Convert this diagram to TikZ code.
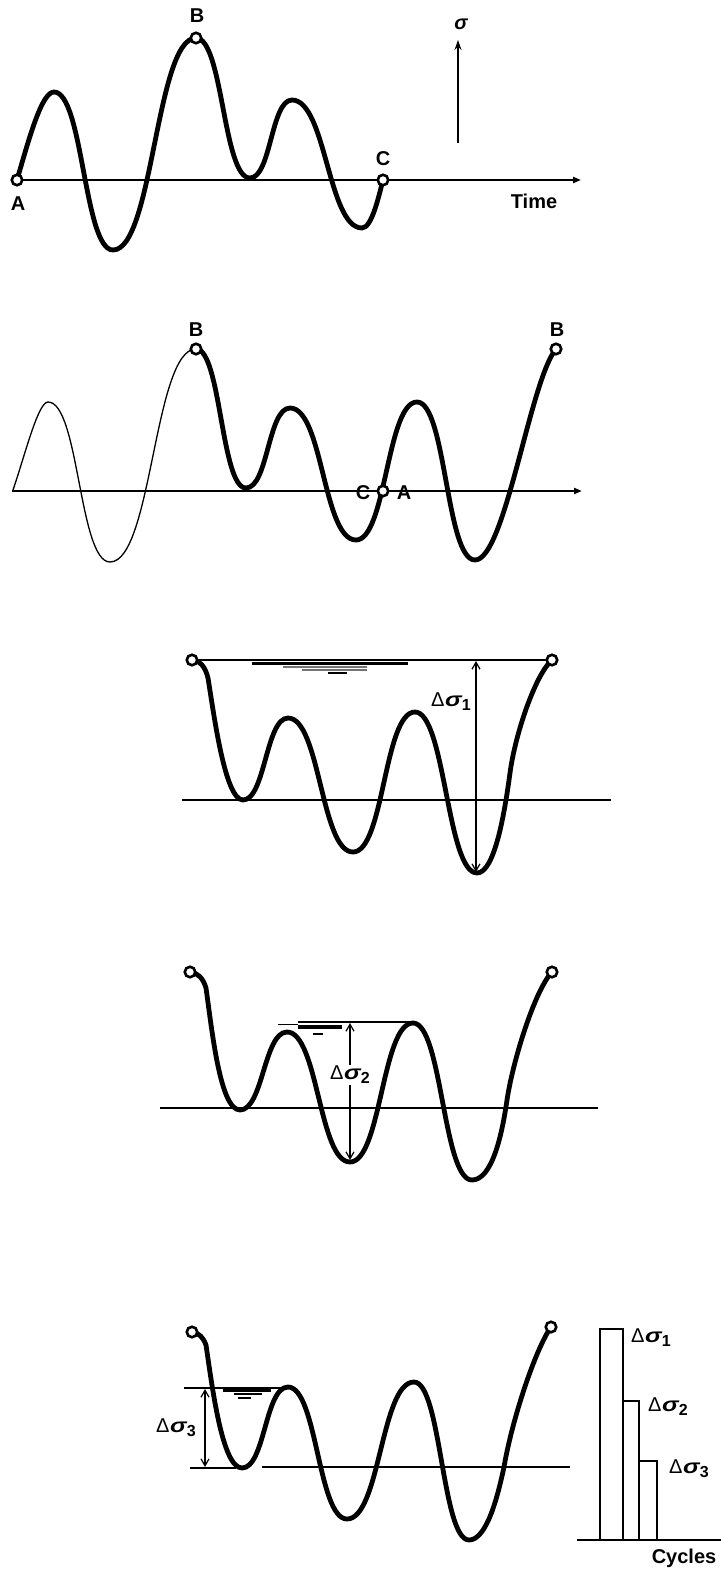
\documentclass[tikz,border=0pt]{standalone}
\usepackage{fontspec}
\setmainfont{Liberation Sans}
\usetikzlibrary{arrows.meta}
\newcommand{\dsig}[1]{Δ\kern0.5pt\scalebox{1.25}[1]{\textbf{\textit{σ}}}\kern-0.5pt\raisebox{-4pt}{\fontsize{16}{16}\selectfont\bfseries #1}}
\begin{document}
\begin{tikzpicture}[x=1pt,y=-1pt,
 curve/.style={line width=4.8pt, line cap=round, line join=round},
 thincurve/.style={line width=1.3pt, line cap=round},
 axisline/.style={line width=2.5pt},
 axisarrow/.style={axisline,-{Triangle[length=8pt,width=6pt]}},
 dimarrow/.style={line width=1.2pt, {Straight Barb[length=7pt,width=8pt]}-{Straight Barb[length=7pt,width=8pt]}},
 hole/.style={circle, draw, fill=white, line width=2.6pt, minimum size=10.5pt, inner sep=0pt},
 lbl/.style={font=\fontsize{20}{24}\selectfont\bfseries, inner sep=0pt},
 dlbl/.style={font=\fontsize{20}{24}\selectfont, inner sep=0pt},
 bar/.style={line width=2.4pt},
 level/.style={line width=2.2pt},
]
\useasboundingbox (0,0) rectangle (721,1569);

% ---------------- Panel 1 ----------------
\coordinate (ax1s) at (15,180); \coordinate (ax1e) at (581,180);
\draw[axisarrow] (ax1s) -- (ax1e);
\draw[curve] (17,180) .. controls (30,135) and (42,92) .. (54,92)
 .. controls +(29,0) and +(-29,0) .. (113,250)
 .. controls +(40,0) and +(-40,0) .. (196,38)
 .. controls +(27,0) and +(-27,0) .. (250,178)
 .. controls +(21,0) and +(-21,0) .. (292,100)
 .. controls +(34,0) and +(-34,0) .. (362,228)
 .. controls (372,228) and (379,195) .. (383,180);
\node[hole] (A1) at (17,180) {};
\node[hole] (B1) at (196,38) {};
\node[hole] (C1) at (383,180) {};
\node[lbl] (lA1) at (18,204) {A};
\node[lbl] (lB1) at (197,16) {B};
\node[lbl] (lC1) at (383,159) {C};
\node[lbl] (lT) at (534,201) {Time};
\coordinate (s0) at (458,143); \coordinate (s1) at (458,40);
\draw[line width=1.5pt,-{Stealth[length=10pt,width=7pt]}] (s0) -- (s1);
\node[lbl, font=\fontsize{20}{24}\selectfont\bfseries\itshape] (lsig) at (461,24) {σ};

% ---------------- Panel 2 ----------------
\coordinate (ax2s) at (12,491); \coordinate (ax2e) at (582,491);
\draw[axisarrow] (ax2s) -- (ax2e);
\draw[thincurve] (13,490) .. controls (25,455) and (38,402) .. (48,402)
 .. controls +(31,0) and +(-31,0) .. (110,562)
 .. controls +(42,0) and +(-42,0) .. (196,349);
\draw[curve] (196,349) .. controls +(25,0) and +(-25,0) .. (246,488)
 .. controls +(22,0) and +(-22,0) .. (290,408)
 .. controls +(33,0) and +(-33,0) .. (356,540)
 .. controls +(30,0) and +(-30,0) .. (417,402)
 .. controls +(29,0) and +(-29,0) .. (475,560)
 .. controls (505,560) and (530,380) .. (556,349);
\node[hole] (B2) at (196,349) {};
\node[hole] (CA2) at (383,491) {};
\node[hole] (B2r) at (556,349) {};
\node[lbl] (lB2) at (196,330) {B};
\node[lbl] (lB2r) at (557,330) {B};
\node[lbl] (lC2) at (363,493) {C};
\node[lbl] (lA2) at (404,493) {A};

% ---------------- Panel 3 ----------------
\coordinate (ax3s) at (182,800); \coordinate (ax3e) at (611,800);
\draw[axisline] (ax3s) -- (ax3e);
\coordinate (t3l) at (192,660); \coordinate (t3r) at (552,660);
\draw[level] (t3l) -- (t3r);
\draw[line width=3pt] (252,663) -- (408,663);
\draw[line width=1.5pt, black!55] (283,667) -- (367,667);
\draw[line width=1.5pt, black!55] (302,670) -- (367,670);
\draw[line width=2.5pt] (328,673) -- (347,673);
\draw[curve] (192,660) .. controls (200,661) and (205,666) .. (208,678)
 .. controls (214,715) and (225,800) .. (243,800)
 .. controls +(22,0) and +(-22,0) .. (288,718)
 .. controls +(32,0) and +(-32,0) .. (353,852)
 .. controls +(31,0) and +(-31,0) .. (415,712)
 .. controls +(30,0) and +(-30,0) .. (477,873)
 .. controls (495,873) and (505,810) .. (510,773)
 .. controls (515,735) and (535,675) .. (552,660);
\node[hole] (L3) at (t3l) {};
\node[hole] (R3) at (t3r) {};
\coordinate (d1a) at (476,661); \coordinate (d1b) at (476,872);
\draw[dimarrow] (d1a) -- (d1b);
\node[dlbl] (ld1) at (451,702) {\dsig{1}};

% ---------------- Panel 4 ----------------
\coordinate (ax4s) at (160,1108); \coordinate (ax4e) at (598,1108);
\draw[axisline] (ax4s) -- (ax4e);
\coordinate (t4l) at (298,1022); \coordinate (t4r) at (413,1022);
\draw[level] (t4l) -- (t4r);
\draw[line width=0.8pt] (278,1024) -- (298,1024);
\draw[line width=4pt] (298,1027) -- (342,1027);
\draw[line width=1.5pt] (313,1034) -- (323,1034);
\draw[curve] (190,972) .. controls (198,973) and (203,978) .. (206,988)
 .. controls (212,1030) and (220,1110) .. (240,1110)
 .. controls +(23,0) and +(-23,0) .. (287,1032)
 .. controls +(31,0) and +(-31,0) .. (350,1162)
 .. controls +(31,0) and +(-31,0) .. (413,1023)
 .. controls +(29,0) and +(-29,0) .. (472,1180)
 .. controls (492,1180) and (502,1135) .. (507,1100)
 .. controls (513,1060) and (535,990) .. (552,972);
\node[hole] (L4) at (190,972) {};
\node[hole] (R4) at (552,972) {};
\coordinate (d2a) at (350,1023); \coordinate (d2b) at (350,1160);
\draw[dimarrow] (d2a) -- (d2b);
\node[dlbl, fill=white, inner sep=1pt] (ld2) at (350,1075) {\dsig{2}};

% ---------------- Panel 5 ----------------
\coordinate (ax5s) at (262,1467); \coordinate (ax5e) at (570,1467);
\draw[axisline] (ax5s) -- (ax5e);
\coordinate (t5l) at (184,1388); \coordinate (t5r) at (288,1388);
\draw[level] (t5l) -- (t5r);
\coordinate (b5l) at (190,1468); \coordinate (b5r) at (236,1468);
\draw[level] (b5l) -- (b5r);
\draw[line width=3pt] (223,1390) -- (271,1390);
\draw[line width=2pt] (234,1394) -- (262,1394);
\draw[line width=2pt] (238,1398) -- (251,1398);
\draw[curve] (192,1332) .. controls (199,1333) and (203,1337) .. (206,1345)
 .. controls (212,1385) and (222,1468) .. (242,1468)
 .. controls +(23,0) and +(-23,0) .. (288,1387)
 .. controls +(29,0) and +(-29,0) .. (347,1519)
 .. controls +(33,0) and +(-33,0) .. (414,1382)
 .. controls +(27,0) and +(-27,0) .. (469,1540)
 .. controls (487,1540) and (498,1495) .. (504,1467)
 .. controls (512,1420) and (535,1350) .. (551,1327);
\node[hole] (L5) at (192,1332) {};
\node[hole] (R5) at (551,1327) {};
\coordinate (d3a) at (205,1389); \coordinate (d3b) at (205,1467);
\draw[dimarrow] (d3a) -- (d3b);
\node[dlbl] (ld3) at (176,1428) {\dsig{3}};

% histogram
\draw[bar] (600,1540) -- (600,1329) -- (623,1329) -- (623,1540);
\draw[bar] (623,1401) -- (639,1401) -- (639,1540);
\draw[bar] (639,1461) -- (657,1461) -- (657,1540);
\coordinate (h0) at (577,1540); \coordinate (h1) at (721,1540);
\draw[line width=2.6pt] (h0) -- (h1);
\node[dlbl, anchor=west] (lh1) at (631,1338) {\dsig{1}};
\node[dlbl, anchor=west] (lh2) at (648,1407) {\dsig{2}};
\node[dlbl, anchor=west] (lh3) at (669,1469) {\dsig{3}};
\node[lbl] (lcyc) at (684,1558) {Cycles};
\end{tikzpicture}
\end{document}
